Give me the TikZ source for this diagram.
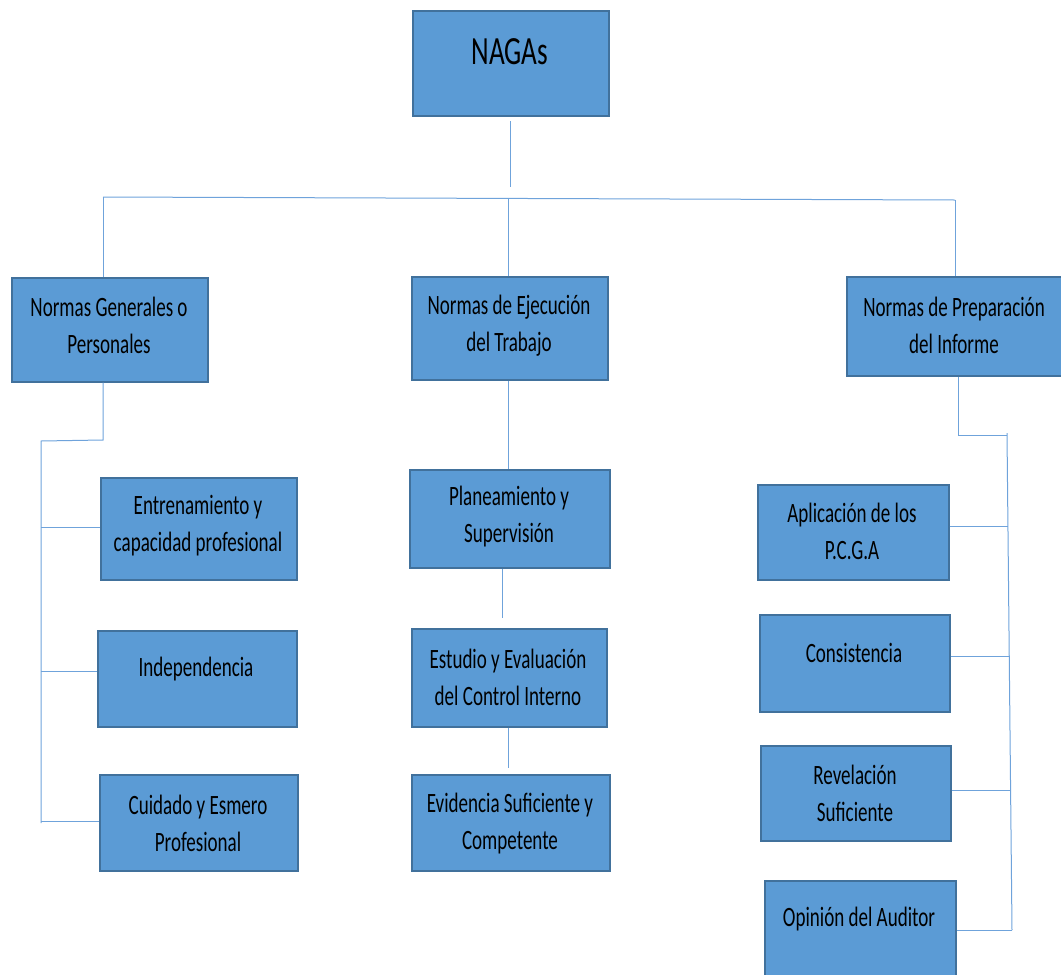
\documentclass[tikz,border=0pt]{standalone}
\usepackage{fontspec}
\setmainfont{Carlito}[FakeStretch=0.68]
\definecolor{boxfill}{HTML}{5B9BD5}
\definecolor{boxline}{HTML}{41719C}
\definecolor{conn}{HTML}{6FA3DB}
\begin{document}
\begin{tikzpicture}[x=1pt,y=-1pt,
  box/.style={draw=boxline, line width=1.5pt, fill=boxfill, anchor=north west, inner sep=0pt},
  txt/.style={align=center, font=\fontsize{28}{37}\selectfont, inner sep=0pt},
  conn/.style={draw=conn, line width=1pt}]
\useasboundingbox (0,0) rectangle (1061,975);
% boxes
\node[box, minimum width=196pt, minimum height=105pt] (nagas) at (412,10) {};
\node[box, minimum width=196pt, minimum height=104pt] (gen) at (11,277) {};
\node[box, minimum width=196pt, minimum height=103pt] (eje) at (411,276) {};
\node[box, minimum width=216pt, minimum height=99pt] (pre) at (846,276) {};
\node[box, minimum width=196pt, minimum height=102pt] (ent) at (100,477) {};
\node[box, minimum width=199pt, minimum height=96pt] (ind) at (97,630) {};
\node[box, minimum width=198pt, minimum height=96pt] (cui) at (99,774) {};
\node[box, minimum width=200pt, minimum height=98pt] (pla) at (409,469) {};
\node[box, minimum width=195pt, minimum height=98pt] (est) at (411,628) {};
\node[box, minimum width=198pt, minimum height=96pt] (evi) at (411,774) {};
\node[box, minimum width=191pt, minimum height=95pt] (apl) at (757,484) {};
\node[box, minimum width=190pt, minimum height=97pt] (con) at (759,614) {};
\node[box, minimum width=190pt, minimum height=95pt] (rev) at (760,745) {};
\node[box, minimum width=191pt, minimum height=100pt] (opi) at (764,880) {};
% texts
\node[txt, font=\fontsize{40}{48}\selectfont] (nagas-t) at (510,52) {NAGAs};
\node[txt] (gen-t) at (109,325.5) {Normas Generales o\\Personales};
\node[txt] (eje-t) at (509,325.5) {Normas de Ejecución\\del Trabajo};
\node[txt] (pre-t) at (954,325.5) {Normas de Preparación\\del Informe};
\node[txt] (ent-t) at (198,525.5) {Entrenamiento y\\capacidad profesional};
\node[txt] (ind-t) at (196,669) {Independencia};
\node[txt] (cui-t) at (198,823.5) {Cuidado y Esmero\\Profesional};
\node[txt] (pla-t) at (509,517) {Planeamiento y\\Supervisión};
\node[txt] (est-t) at (508,677.5) {Estudio y Evaluación\\del Control Interno};
\node[txt] (evi-t) at (510,823.5) {Evidencia Suficiente y\\Competente};
\node[txt] (apl-t) at (852,531) {Aplicación de los\\P.C.G.A};
\node[txt] (con-t) at (854,653) {Consistencia};
\node[txt] (rev-t) at (855,793) {Revelación\\Suficiente};
\node[txt] (opi-t) at (859,919) {Opinión del Auditor};
% connector coordinates
\coordinate (n1) at (510,121);
\coordinate (n2) at (510,187);
\coordinate (hL) at (103,197);
\coordinate (hR) at (955,200);
\coordinate (gL1) at (103,440);
\coordinate (gL2) at (41,441);
\coordinate (gL3) at (41,823);
\coordinate (rA) at (958,435);
\coordinate (rB) at (1007,435);
\coordinate (rC) at (1007,433);
\coordinate (rD) at (1012,930);
% top tree
\draw[conn] (n1) -- (n2);
\draw[conn] (hL) -- (hR);
\draw[conn] (hL) -- (gen.north -| hL);
\draw[conn] (508,199) -- (eje.north -| 508,0);
\draw[conn] (hR) -- (pre.north -| hR);
% left group
\draw[conn] (gen.south -| gL1) -- (gL1) -- (gL2) -- (gL3);
\draw[conn] (41,527) -- (ent.west |- 0,527);
\draw[conn] (41,671) -- (ind.west |- 0,671);
\draw[conn] (41,821) -- (cui.west |- 0,821);
% middle group
\draw[conn] (eje.south -| 508,0) -- (pla.north -| 508,0);
\draw[conn] (pla.south -| 502,0) -- (502,618);
\draw[conn] (est.south -| 508,0) -- (508,768);
% right group
\draw[conn] (pre.south -| rA) -- (rA) -- (rB);
\draw[conn] (rC) -- (rD);
\draw[conn] (apl.east |- 0,526) -- (1008,526);
\draw[conn] (con.east |- 0,656) -- (1009,656);
\draw[conn] (rev.east |- 0,790) -- (1010,790);
\draw[conn] (opi.east |- 0,930) -- (rD);
\end{tikzpicture}
\end{document}
